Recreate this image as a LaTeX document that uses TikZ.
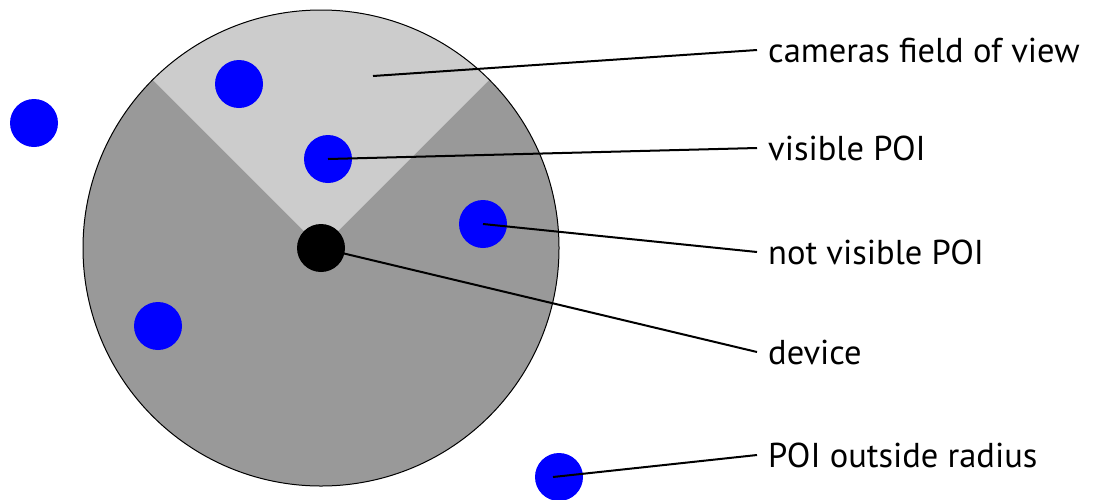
\documentclass[tikz,border=0pt]{standalone}
\usepackage{fontspec}
\setmainfont{PT Sans}
\definecolor{rangegray}{HTML}{999999}
\definecolor{viewgray}{HTML}{CCCCCC}
\begin{document}
\begin{tikzpicture}[x=1pt,y=-1pt,
  poi/.style={circle,fill=blue,minimum size=48pt,inner sep=0pt},
  dev/.style={circle,fill=black,minimum size=48pt,inner sep=0pt},
  lbl/.style={anchor=west,inner xsep=11pt,inner ysep=0pt,text height=24pt,text depth=0pt,
    font=\fontsize{34.5}{39}\selectfont},
  lead/.style={line width=2pt}]
\useasboundingbox (0,0) rectangle (1097,499);
% range circle and camera wedge
\fill[rangegray] (321,248) circle (238);
\fill[viewgray] (321,248) -- +(225:238) arc[start angle=225,end angle=315,radius=238] -- cycle;
\draw[line width=1pt] (321,248) circle (238);
% points
\node[poi] (p1) at (239,84) {};
\node[poi] (p2) at (34,123) {};
\node[poi] (p3) at (328,159) {};
\node[poi] (p4) at (483,224) {};
\node[poi] (p5) at (158,326) {};
\node[poi] (p6) at (559,477) {};
\coordinate (fov) at (373,76);
% labels
\node[lbl] (l1) at (757,50) {cameras field of view};
\node[lbl] (l2) at (757,148) {visible POI};
\node[lbl] (l3) at (757,252) {not visible POI};
\node[lbl] (l4) at (757,352) {device};
\node[lbl] (l5) at (757,455) {POI outside radius};
% leaders
\draw[lead] (fov) -- (l1.west);
\draw[lead] (p3.center) -- (l2.west);
\draw[lead] (p4.center) -- (l3.west);
\draw[lead] (553,477) coordinate (p6s) -- (l5.west);
\node[dev] (dv) at (321,248) {};
\draw[lead] (dv.center) -- (l4.west);
\end{tikzpicture}
\end{document}
